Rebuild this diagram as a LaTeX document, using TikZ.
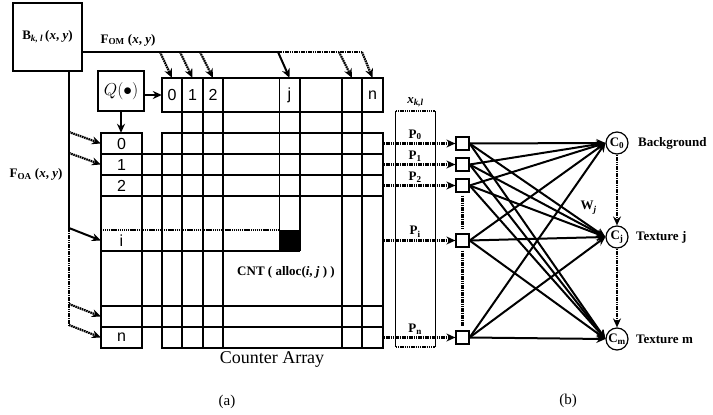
\documentclass[tikz,border=0pt]{standalone}
\usepackage{fontspec}
\setmainfont{Liberation Serif}
\newfontfamily\cellfont{Liberation Sans}
\usetikzlibrary{positioning,arrows.meta}
\newcommand{\bfit}[1]{\textbf{\textit{#1}}}

\begin{document}
\begin{tikzpicture}[x=1pt,y=-1pt,font=\fontsize{13}{15}\selectfont\bfseries,>={Stealth[length=9pt,width=8pt]},
    box/.style={draw,line width=1.2pt,inner sep=0pt},
    cell/.style={inner sep=0pt,minimum width=20pt,minimum height=21pt,font=\cellfont\mdseries\fontsize{16}{16}\selectfont},
    sbox/.style={draw,line width=1.2pt,minimum size=13pt,inner sep=0pt},
    cnode/.style={draw,circle,line width=1.2pt,minimum size=22pt,inner sep=0pt},
    plain/.style={font=\mdseries\fontsize{15}{17}\selectfont},
    gl/.style={line width=1.2pt}, ln/.style={line width=2pt}, ar/.style={->,line width=2pt},
    dotln/.style={line width=2.2pt,dash pattern=on 1.6pt off 0.7pt}, dotar/.style={dotln,->}]
  \useasboundingbox (0,0) rectangle (713,415);
  % counter array
  \node[box,minimum width=221pt,minimum height=34pt] (top) at (272.5,95) {};
  \node[box,minimum width=221pt,minimum height=215pt] (grid) at (272.5,240.5) {};
  \node[box,minimum width=41pt,minimum height=215pt] (idx) at (121.5,240.5) {};
  \foreach \x in {182,203,223,342,362} \draw[gl] (\x,78) -- (\x,348);
  \draw[line width=0.7pt] (279,78) -- (279,251); \draw[gl] (300,78) -- (300,251);
  \foreach \y in {154,175,196,306,327} \draw[gl] (101,\y) -- (383,\y);
  \draw[gl,dash pattern=on 1.2pt off 0.7pt] (101,230) -- (279,230); \draw[gl] (101,251) -- (300,251);
  \fill (279,230) rectangle (300,251);
  \foreach \n/\x/\t in {0/172/0,1/192.5/1,2/213/2,j/289.5/j,m/352/{},n/372.5/n}
    \node[cell,minimum height=34pt] (t\n) at (\x,95) {\t};
  \foreach \n/\y/\t in {0/143.5/0,1/164.5/1,2/185.5/2,i/240.5/i,m/316.5/{},n/337.5/n}
    \node[cell,minimum width=41pt] (l\n) at (121.5,\y) {\t};
  \node[box,minimum width=46pt,minimum height=40pt,font=\fontsize{17}{17}\selectfont] (q) at (121,91) {$Q(\bullet)$};
  \draw[ar] (q.east |- t0.west) -- (t0.west); \draw[ar] (q.south) -- (q.south |- l0.north);
  % block and its two feeds
  \node[box,minimum width=69pt,minimum height=68pt] (bkl) at (47.5,37) {B\textsubscript{\bfit{k, l}}\,(\bfit{x}, \bfit{y})};
  \foreach \c/\x in {0/160,1/180,2/200,j/278,m/339,n/362} \coordinate (f\c) at (\x,52);
  \draw[ln] (bkl.east |- fj) -- (fj); \draw[dotln] (fj) -- (fn);
  \foreach \c in {0,1,2,m,n} \draw[dotar] (f\c) -- (t\c.north);
  \draw[ar] (fj) -- (tj.north);
  \node (fom) at (128,40) {F\textsubscript{OM} (\bfit{x}, \bfit{y})};
  \foreach \c/\y in {0/132,1/153,i/228,m/304,n/325} \coordinate (a\c) at (69,\y);
  \draw[ln] (bkl.south -| ai) -- (ai); \draw[dotln] (ai) -- (an);
  \foreach \c in {0,1,m,n} \draw[dotar] (a\c) -- (l\c.west);
  \draw[ar] (ai) -- (li.west);
  \node (foa) at (36,174) {F\textsubscript{OA} (\bfit{x}, \bfit{y})};
  \node (cnt) at (286,272) {CNT ( alloc(\textit{i}, \textit{j} ) )};
  \node[plain,font=\mdseries\fontsize{18}{20}\selectfont] (ca) at (272,359) {Counter Array};
  \node[plain] (capa) at (227,402) {(a)};
  % network
  \node[minimum width=39pt,minimum height=236pt,inner sep=0pt] (xk) at (415.5,229) {};
  \draw[gl] (xk.north west) -- (xk.south west) (xk.north east) -- (xk.south east);
  \draw[gl,line width=1.8pt,dash pattern=on 1.4pt off 0.8pt] (xk.north west) -- (xk.north east) (xk.south west) -- (xk.south east);
  \node[above=0pt of xk] (xkl) {\bfit{x}\textsubscript{\bfit{k,l}}};
  \foreach \n/\y in {0/143.5,1/164.5,2/185.5,i/240.5,n/337.5} \node[sbox] (s\n) at (462.5,\y) {};
  \foreach \n in {0,1,2,i,n} \draw[dotar] (s\n -| grid.east) -- node[pos=0.44,above=-1pt]{P\textsubscript{\n}} (s\n.west);
  \draw[dotln,shorten <=3pt,shorten >=4pt] (s2.south) -- (si.north);
  \draw[dotln,shorten <=3pt,shorten >=4pt] (si.south) -- (sn.north);
  \node[cnode] (c0) at (617,143) {C\textsubscript{0}};
  \node[cnode] (cj) at (617,237) {C\textsubscript{j}};
  \node[cnode] (cm) at (617,339) {C\textsubscript{m}};
  \node[right=6pt of c0] (bg) {Background};
  \node[right=4pt of cj] (txj) {Texture j};
  \node[right=4pt of cm] (txm) {Texture m};
  \draw[dotar] (c0) -- node[pos=0.75,left=16pt]{W\textsubscript{\bfit{j}}} (cj);
  \draw[dotar] (cj) -- (cm);
  \foreach \s in {0,1,2,i,n} \foreach \c in {0,j,m} \draw[ar] (s\s.east) -- (c\c.west);
  \node[plain] (capb) at (568,401) {(b)};
\end{tikzpicture}
\end{document}
